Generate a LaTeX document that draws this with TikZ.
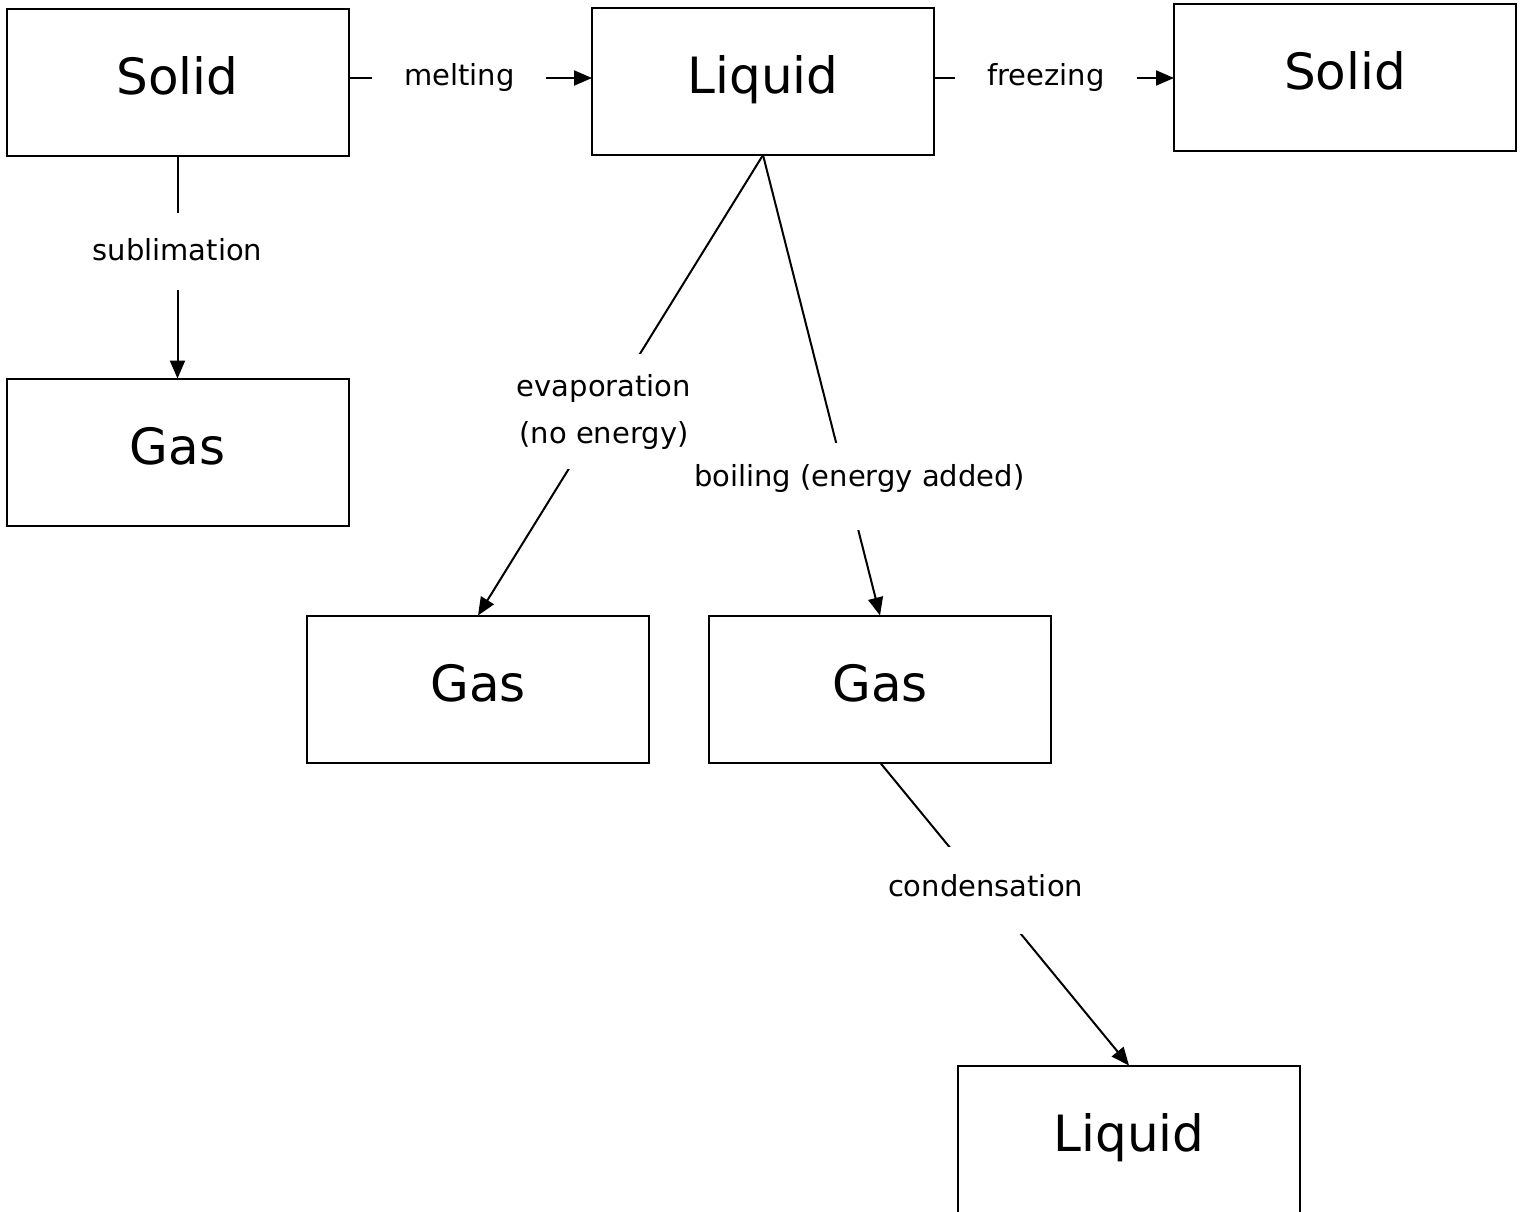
\documentclass[tikz,border=0pt]{standalone}
\usepackage{fontspec}
\setmainfont{DejaVu Sans}
\usetikzlibrary{arrows.meta}
\begin{document}
\begin{tikzpicture}[x=1pt,y=-1pt,
  state/.style={draw, line width=2pt, minimum width=342pt, minimum height=147pt,
    inner sep=0pt, outer sep=0pt, font=\fontsize{50}{60}\selectfont,
    text height=37pt, text depth=13pt},
  trans/.style={fill=white, font=\fontsize{29}{47}\selectfont, inner xsep=32pt,
    inner ysep=20pt, align=center},
  link/.style={line width=2pt, -{Triangle[length=18pt,width=15pt]}}]
\useasboundingbox (0,0) rectangle (1526,1212);
\clip (0,0) rectangle (1526,1212);

% states of matter
\node[state] (solidA)  at (177.5,83)   {Solid};
\node[state] (liquidA) at (763,81.5)   {Liquid};
\node[state] (solidB)  at (1345,77.5)  {Solid};
\node[state] (gasA)    at (177.5,452)  {Gas};
\node[state] (gasB)    at (478,689)    {Gas};
\node[state] (gasC)    at (880,689)    {Gas};
\node[state] (liquidB) at (1129,1139)  {Liquid};

% phase changes
\draw[link] ([yshift=5pt]solidA.east) --
  node[trans, pos=0.455] {melting} ([yshift=3.5pt]liquidA.west);
\draw[link] ([yshift=3.5pt]liquidA.east) --
  node[trans, pos=0.467] {freezing} ([yshift=-0.5pt]solidB.west);
\draw[link] (solidA.south) --
  node[trans, pos=0.43, text height=22pt, text depth=5pt, inner ysep=25pt] {sublimation} (gasA.north);
\draw[link] (liquidA.south) --
  node[trans, pos=0.72, xshift=12pt, inner xsep=4pt, text height=22pt, text depth=22pt, inner ysep=21.5pt] {boiling (energy added)} (gasC.north);
\draw[link] (liquidA.south) --
  node[trans, pos=0.558, inner xsep=4pt, inner ysep=20pt] {evaporation\\(no energy)} (gasB.north);
\draw[link] (gasC.south) --
  node[trans, pos=0.424, text height=22pt, text depth=11pt, inner ysep=27pt] {condensation} (liquidB.north);
\end{tikzpicture}
\end{document}
